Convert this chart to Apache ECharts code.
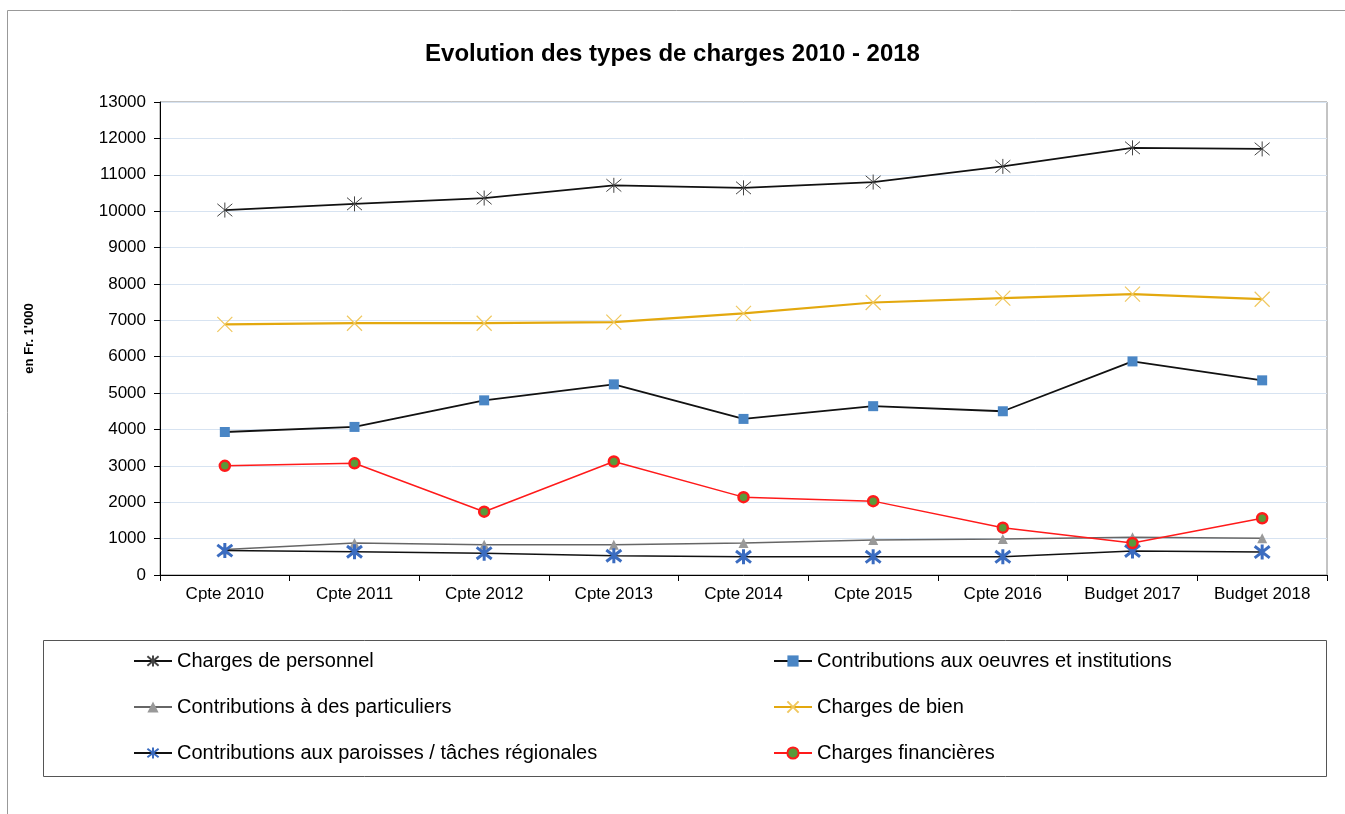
<!DOCTYPE html>
<html><head><meta charset="utf-8">
<script src="https://cdn.jsdelivr.net/npm/echarts@6/dist/echarts.min.js"></script>
<style>html,body{margin:0;padding:0;background:#fff}#c{width:1345px;height:814px}</style>
</head><body><div id="c"></div>
<script>
const categories = ['Cpte 2010','Cpte 2011','Cpte 2012','Cpte 2013','Cpte 2014','Cpte 2015','Cpte 2016','Budget 2017','Budget 2018'];
const personnel = [10030, 10200, 10360, 10710, 10640, 10800, 11230, 11740, 11710];
const oeuvres = [3930, 4070, 4800, 5240, 4290, 4640, 4500, 5870, 5350];
const particuliers = [700, 880, 830, 830, 880, 960, 990, 1040, 1010];
const bien = [6890, 6920, 6920, 6950, 7190, 7490, 7610, 7720, 7580];
const paroisses = [670, 640, 600, 530, 500, 500, 500, 660, 630];
const financieres = [3000, 3070, 1740, 3120, 2140, 2030, 1300, 880, 1560];
const yTicks = {min: 0, max: 13000, interval: 1000};

const asterisk = 'path://M0,0L10,10M10,0L0,10M5,-1L5,11';
const starBlue = 'path://M0,0L10,10M10,0L0,10M5,-1.5L5,11.5';
const cross = 'path://M0,0L10,10M10,0L0,10';

const chart = echarts.init(document.getElementById('c'));
const font = 'Liberation Sans, Arial, sans-serif';
const legendText = {fontSize: 20, color: '#000', fontFamily: font};
chart.setOption({
  animation: false,
  textStyle: {fontFamily: font},
  title: {text: 'Evolution des types de charges 2010 - 2018', left: 'center', top: 37,
    textStyle: {fontSize: 24, fontWeight: 'bold', color: '#000', fontFamily: font}},
  grid: {left: 160, top: 102, right: 18, bottom: 239, show: true, borderColor: '#888', borderWidth: 1, containLabel: false},
  xAxis: {type: 'category', data: categories, boundaryGap: true,
    axisLine: {lineStyle: {color: '#000', width: 1}},
    axisTick: {show: true, length: 6, lineStyle: {color: '#000'}},
    axisLabel: {fontSize: 17, color: '#000', margin: 11, fontFamily: font}},
  yAxis: {type: 'value', min: yTicks.min, max: yTicks.max, interval: yTicks.interval,
    name: "en Fr. 1'000", nameLocation: 'middle', nameGap: 124, nameRotate: 90,
    nameTextStyle: {fontSize: 13, fontWeight: 'bold', color: '#000', fontFamily: font},
    axisLine: {show: true, lineStyle: {color: '#000'}},
    axisTick: {show: true, length: 6, lineStyle: {color: '#000'}},
    axisLabel: {fontSize: 17, color: '#000', margin: 14, fontFamily: font, formatter: v => String(v)},
    splitLine: {lineStyle: {color: '#d7e3f1', width: 1}}},
  legend: [
    {data: ['Charges de personnel','Contributions à des particuliers','Contributions aux paroisses / tâches régionales'],
     orient: 'vertical', left: 133, top: 651, itemWidth: 38, itemHeight: 14, itemGap: 26, padding: 0,
     textStyle: legendText},
    {data: ['Contributions aux oeuvres et institutions','Charges de bien','Charges financières'],
     orient: 'vertical', left: 773, top: 651, itemWidth: 38, itemHeight: 14, itemGap: 26, padding: 0,
     textStyle: legendText}
  ],
  graphic: [
    {type: 'rect', shape: {x: 43.5, y: 640.5, width: 1283, height: 136}, style: {fill: 'none', stroke: '#555', lineWidth: 1}, silent: true},
    {type: 'polyline', shape: {points: [[7.5, 814], [7.5, 10.5], [1345, 10.5]]}, style: {fill: 'none', stroke: '#999', lineWidth: 1}, silent: true}
  ],
  series: [
    {name: 'Charges de personnel', type: 'line', data: personnel, symbol: asterisk, symbolSize: 15,
     lineStyle: {color: '#111', width: 1.8}, itemStyle: {color: 'rgba(0,0,0,0)', borderColor: '#444', borderWidth: 1}, z: 5},
    {name: 'Contributions aux oeuvres et institutions', type: 'line', data: oeuvres, symbol: 'rect', symbolSize: 10,
     lineStyle: {color: '#111', width: 1.8}, itemStyle: {color: '#4a86c5'}, z: 5},
    {name: 'Contributions à des particuliers', type: 'line', data: particuliers, symbol: 'triangle', symbolSize: 10,
     lineStyle: {color: '#666', width: 1.5}, itemStyle: {color: '#999'}, z: 3},
    {name: 'Charges de bien', type: 'line', data: bien, symbol: cross, symbolSize: 15,
     lineStyle: {color: '#e3a80e', width: 2.2}, itemStyle: {color: 'rgba(0,0,0,0)', borderColor: '#f0c860', borderWidth: 1.2}, z: 5},
    {name: 'Contributions aux paroisses / tâches régionales', type: 'line', data: paroisses, symbol: starBlue, symbolSize: 15,
     lineStyle: {color: '#111', width: 1.5}, itemStyle: {color: 'rgba(0,0,0,0)', borderColor: '#3b6cc0', borderWidth: 3}, z: 4},
    {name: 'Charges financières', type: 'line', data: financieres, symbol: 'circle', symbolSize: 10,
     lineStyle: {color: '#ff1a1a', width: 1.5}, itemStyle: {color: '#5a9a3a', borderColor: '#ff1a1a', borderWidth: 2.5}, z: 6}
  ]
});
</script></body></html>
